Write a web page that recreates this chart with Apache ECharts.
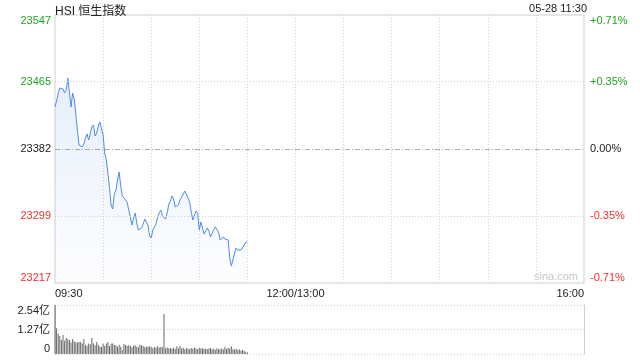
<!DOCTYPE html>
<html><head><meta charset="utf-8">
<script src="https://cdn.jsdelivr.net/npm/echarts@6/dist/echarts.min.js"></script>
<style>html,body{margin:0;padding:0;background:#fff}#c{width:640px;height:360px}</style>
</head><body><div id="c"></div>
<script>
const titleText = 'HSI 恒生指数';
const stampText = '05-28 11:30';
const watermark = 'sina.com';
const prevClose = 23382;
const priceTicks = [23217, 23299, 23382, 23465, 23547];
const pctLabels = ['-0.71%', '-0.35%', '0.00%', '+0.35%', '+0.71%'];
const volTicks = [0, 1.27, 2.54];
const volLabels = ['0', '1.27亿', '2.54亿'];
const xTickIndex = [0, 150, 330];
const xTickLabels = ['09:30', '12:00/13:00', '16:00'];

const prices = [
23434.1,23441.1,23451.0,23457.1,23458.3,23455.9,23451.0,23454.7,23469.4,23452.2,
23433.7,23451.0,23443.6,23425.1,23404.2,23386.9,23386.9,23384.5,23388.2,23395.5,
23400.5,23393.1,23391.9,23409.1,23411.6,23398.0,23401.7,23410.3,23415.3,23417.7,
23399.2,23377.1,23368.5,23352.5,23334.0,23313.1,23308.1,23326.6,23331.5,23343.8,
23353.7,23336.4,23324.1,23324.1,23319.2,23316.7,23306.9,23298.3,23288.4,23297.0,
23303.2,23290.9,23282.3,23282.3,23284.7,23289.7,23295.8,23295.8,23288.4,23274.9,
23272.4,23282.3,23284.7,23289.7,23298.3,23303.2,23306.9,23299.5,23299.5,23295.8,
23303.2,23314.3,23318.0,23324.1,23320.4,23310.6,23309.4,23313.1,23319.2,23322.9,
23326.6,23330.3,23330.3,23321.7,23316.7,23304.4,23294.6,23300.7,23305.7,23303.2,
23282.3,23292.1,23289.7,23277.3,23276.1,23284.7,23281.0,23273.7,23272.4,23282.3,
23286.0,23284.7,23279.8,23270.0,23272.4,23273.7,23271.2,23272.4,23270.0,23247.8,
23237.9,23245.3,23253.9,23260.1,23257.6,23255.2,23257.6,23258.9,23263.8,23267.5,
23267.5
];

const volumes = [
2.54,1.33,1.05,0.93,0.73,0.98,0.69,0.83,0.76,0.73,
0.59,0.78,0.66,0.59,0.59,0.62,0.62,0.55,0.78,0.47,
0.41,0.55,0.50,0.83,0.55,0.45,0.62,0.48,0.38,0.38,
0.55,0.41,0.55,0.62,0.41,0.55,0.55,0.47,0.44,0.38,
0.48,0.38,0.21,0.52,0.47,0.41,0.45,0.41,0.35,0.43,
0.45,0.38,0.35,0.48,0.45,0.41,0.35,0.38,0.38,0.40,
0.38,0.30,0.36,0.32,0.40,0.34,0.36,0.35,2.07,0.30,
0.34,0.28,0.31,0.27,0.33,0.26,0.40,0.30,0.42,0.28,
0.33,0.25,0.30,0.28,0.24,0.31,0.27,0.33,0.29,0.25,
0.32,0.28,0.30,0.26,0.29,0.24,0.28,0.31,0.25,0.27,
0.22,0.30,0.26,0.24,0.29,0.23,0.36,0.26,0.33,0.28,
0.40,0.25,0.23,0.27,0.20,0.24,0.18,0.21,0.15,0.12,
0.08
];

// minute categories 09:30-12:00, 13:00-16:00
const categories = [];
for (let i = 0; i <= 330; i++) {
  const t = i <= 150 ? 570 + i : 780 + (i - 150);
  const h = Math.floor(t / 60), m = t % 60;
  categories.push(String(h).padStart(2, '0') + ':' + String(m).padStart(2, '0'));
}

const FONT = "'Liberation Sans', Arial, 'Noto Sans CJK SC', sans-serif";
const GREEN = '#22a322', RED = '#f03030', DARK = '#222';
const colorFor = v => v > prevClose ? GREEN : (v < prevClose ? RED : DARK);

const chart = echarts.init(document.getElementById('c'), null, {renderer: 'canvas'});
chart.setOption({
  animation: false,
  backgroundColor: '#fff',
  textStyle: {fontFamily: FONT},
  title: {text: titleText, left: 50, top: 1,
    textStyle: {fontSize: 12, fontWeight: 'normal', color: '#222', fontFamily: FONT}},
  graphic: [
    {type: 'text', right: 53, top: 3, style: {text: stampText, fontSize: 11, fill: '#222', font: '11px ' + FONT}},
    {type: 'text', right: 62, top: 271, style: {text: watermark, fill: '#c8c8c8', font: '11px ' + FONT}}
  ],
  grid: [
    {left: 55, right: 56, top: 15, height: 268, show: true, borderColor: '#cfcfcf', borderWidth: 1},
    {left: 55, right: 56, top: 305, height: 49}
  ],
  xAxis: [
    {type: 'category', gridIndex: 0, data: categories, boundaryGap: false,
      axisLine: {show: false}, axisTick: {show: false},
      axisLabel: {interval: (i) => xTickIndex.indexOf(i) >= 0,
        formatter: (v, i) => { const k = xTickIndex.indexOf(i); return k >= 0 ? xTickLabels[k] : ''; },
        color: '#222', fontSize: 11, margin: 5, fontFamily: FONT,
        alignMinLabel: 'left', alignMaxLabel: 'right', showMinLabel: true, showMaxLabel: true},
      splitLine: {show: true, interval: (i) => i % 30 === 0 && i > 0 && i < 330,
        lineStyle: {color: '#cfcfcf', type: [1, 2], width: 1}}},
    {type: 'category', gridIndex: 1, data: categories, boundaryGap: false, show: false}
  ],
  yAxis: [
    {type: 'value', gridIndex: 0, min: priceTicks[0], max: priceTicks[4],
      axisLine: {show: false}, axisTick: {show: false}, splitLine: {show: false},
      axisLabel: {customValues: priceTicks, formatter: v => String(v),
        color: v => colorFor(v), fontSize: 11, margin: 4, fontFamily: FONT,
        verticalAlignMinLabel: 'bottom', verticalAlignMaxLabel: 'top'}},
    {type: 'value', gridIndex: 0, position: 'right', min: priceTicks[0], max: priceTicks[4],
      axisLine: {show: false}, axisTick: {show: false}, splitLine: {show: false},
      axisLabel: {customValues: priceTicks,
        formatter: v => { const k = priceTicks.indexOf(v); return k >= 0 ? pctLabels[k] : ''; },
        color: v => colorFor(v), fontSize: 11, margin: 6, fontFamily: FONT,
        verticalAlignMinLabel: 'bottom', verticalAlignMaxLabel: 'top'}},
    {type: 'value', gridIndex: 1, min: volTicks[0], max: volTicks[2], interval: volTicks[1],
      axisLine: {show: true, lineStyle: {color: '#cfcfcf'}}, axisTick: {show: false},
      splitLine: {show: true, lineStyle: {color: '#cfcfcf', type: [1, 2]}},
      axisLabel: {formatter: v => { const k = volTicks.indexOf(v); return k >= 0 ? volLabels[k] : ''; },
        color: '#222', fontSize: 11, margin: 5, fontFamily: FONT,
        verticalAlignMinLabel: 'bottom', verticalAlignMaxLabel: 'top'}},
    {type: 'value', gridIndex: 1, position: 'right', min: volTicks[0], max: volTicks[2],
      axisLine: {show: true, lineStyle: {color: '#cfcfcf'}}, axisTick: {show: false},
      axisLabel: {show: false}, splitLine: {show: false}}
  ],
  series: [
    {type: 'line', xAxisIndex: 0, yAxisIndex: 0, data: prices, symbol: 'none', smooth: false,
      lineStyle: {color: '#4e8cf0', width: 1},
      areaStyle: {color: new echarts.graphic.LinearGradient(0, 0, 0, 1, [
        {offset: 0, color: 'rgba(78,140,240,0.20)'},
        {offset: 1, color: 'rgba(78,140,240,0.02)'}])},
      markLine: {silent: true, symbol: 'none', label: {show: false},
        data: [
          {yAxis: priceTicks[1], lineStyle: {color: '#cfcfcf', type: [1, 2], width: 1}},
          {yAxis: priceTicks[3], lineStyle: {color: '#cfcfcf', type: [1, 2], width: 1}},
          {yAxis: priceTicks[2], lineStyle: {color: '#aaaaaa', type: [5, 2, 1, 2], width: 1}}
        ]}},
    {type: 'bar', xAxisIndex: 1, yAxisIndex: 2, data: volumes, barWidth: 1,
      itemStyle: {color: '#666666'}}
  ]
});
</script></body></html>
